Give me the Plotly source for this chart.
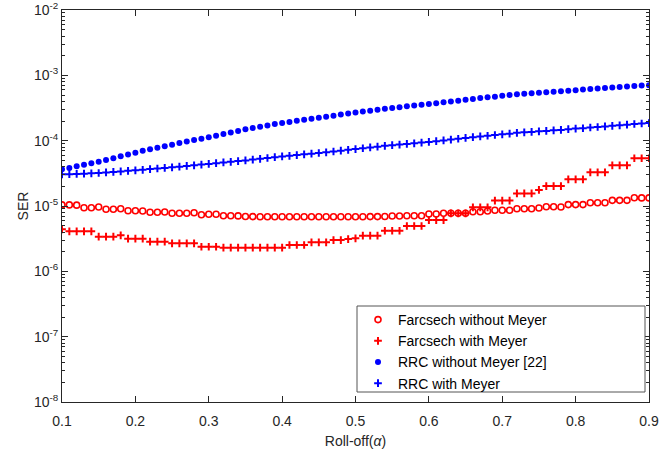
import numpy as np
import plotly.graph_objects as go

alpha = [round(0.10 + 0.01 * i, 2) for i in range(81)]

farc_without = [
    1.04e-5, 1.04e-5, 1.03e-5, 9.42e-6, 9.42e-6, 9.65e-6, 8.90e-6, 8.90e-6, 9.09e-6, 8.47e-6,
    8.47e-6, 8.40e-6, 8.01e-6, 8.01e-6, 8.09e-6, 7.73e-6, 7.73e-6, 7.73e-6, 7.89e-6, 7.36e-6,
    7.46e-6, 7.46e-6, 7.10e-6, 7.10e-6, 7.05e-6, 6.90e-6, 6.88e-6, 6.86e-6, 6.86e-6, 6.84e-6,
    6.84e-6, 6.84e-6, 6.84e-6, 6.84e-6, 6.84e-6, 6.84e-6, 6.86e-6, 6.86e-6, 6.86e-6, 6.86e-6,
    6.86e-6, 6.86e-6, 6.88e-6, 6.88e-6, 6.90e-6, 7.03e-6, 7.03e-6, 7.10e-6, 7.10e-6, 7.10e-6,
    7.54e-6, 7.54e-6, 7.73e-6, 7.73e-6, 7.73e-6, 7.73e-6, 8.18e-6, 8.18e-6, 8.38e-6, 8.59e-6,
    8.59e-6, 8.59e-6, 9.09e-6, 9.09e-6, 9.09e-6, 9.32e-6, 9.76e-6, 9.76e-6, 9.65e-6, 1.05e-5,
    1.05e-5, 1.05e-5, 1.12e-5, 1.12e-5, 1.12e-5, 1.22e-5, 1.22e-5, 1.22e-5, 1.34e-5, 1.33e-5, 1.33e-5,
]

farc_with = [
    4.40e-6, 4.10e-6, 4.10e-6, 4.10e-6, 4.10e-6, 3.39e-6, 3.39e-6, 3.39e-6, 3.56e-6, 3.16e-6,
    3.16e-6, 3.16e-6, 2.84e-6, 2.84e-6, 2.84e-6, 2.68e-6, 2.68e-6, 2.68e-6, 2.68e-6, 2.38e-6,
    2.38e-6, 2.38e-6, 2.30e-6, 2.30e-6, 2.30e-6, 2.30e-6, 2.30e-6, 2.30e-6, 2.30e-6, 2.30e-6,
    2.30e-6, 2.53e-6, 2.53e-6, 2.53e-6, 2.78e-6, 2.78e-6, 2.78e-6, 3.01e-6, 3.01e-6, 3.12e-6,
    3.20e-6, 3.51e-6, 3.51e-6, 3.51e-6, 4.18e-6, 4.18e-6, 4.18e-6, 4.94e-6, 4.94e-6, 4.94e-6,
    6.10e-6, 6.10e-6, 6.10e-6, 7.73e-6, 7.73e-6, 7.73e-6, 9.55e-6, 9.55e-6, 9.55e-6, 1.21e-5,
    1.21e-5, 1.21e-5, 1.56e-5, 1.56e-5, 1.56e-5, 1.76e-5, 2.02e-5, 2.02e-5, 2.02e-5, 2.56e-5,
    2.56e-5, 2.56e-5, 3.28e-5, 3.28e-5, 3.28e-5, 4.20e-5, 4.20e-5, 4.20e-5, 5.38e-5, 5.38e-5, 5.38e-5,
]

rrc_without = [
    3.64e-5, 3.83e-5, 4.06e-5, 4.28e-5, 4.52e-5, 4.77e-5, 5.05e-5, 5.38e-5, 5.75e-5, 6.12e-5,
    6.55e-5, 6.98e-5, 7.36e-5, 7.78e-5, 8.24e-5, 8.69e-5, 9.19e-5, 9.69e-5, 1.02e-4, 1.07e-4,
    1.13e-4, 1.19e-4, 1.26e-4, 1.33e-4, 1.41e-4, 1.49e-4, 1.56e-4, 1.64e-4, 1.71e-4, 1.80e-4,
    1.86e-4, 1.93e-4, 2.01e-4, 2.09e-4, 2.17e-4, 2.25e-4, 2.33e-4, 2.41e-4, 2.51e-4, 2.60e-4,
    2.69e-4, 2.79e-4, 2.88e-4, 2.98e-4, 3.08e-4, 3.17e-4, 3.26e-4, 3.35e-4, 3.45e-4, 3.55e-4,
    3.64e-4, 3.75e-4, 3.87e-4, 3.98e-4, 4.10e-4, 4.23e-4, 4.35e-4, 4.49e-4, 4.60e-4, 4.72e-4,
    4.86e-4, 4.99e-4, 5.12e-4, 5.21e-4, 5.32e-4, 5.41e-4, 5.51e-4, 5.61e-4, 5.71e-4, 5.83e-4,
    5.93e-4, 6.06e-4, 6.17e-4, 6.30e-4, 6.41e-4, 6.53e-4, 6.64e-4, 6.76e-4, 6.88e-4, 6.98e-4, 7.08e-4,
]

rrc_with = [
    3.05e-5, 3.07e-5, 3.10e-5, 3.12e-5, 3.16e-5, 3.20e-5, 3.26e-5, 3.32e-5, 3.38e-5, 3.45e-5,
    3.51e-5, 3.58e-5, 3.67e-5, 3.75e-5, 3.83e-5, 3.91e-5, 4.00e-5, 4.10e-5, 4.20e-5, 4.31e-5,
    4.41e-5, 4.52e-5, 4.64e-5, 4.75e-5, 4.87e-5, 4.99e-5, 5.14e-5, 5.28e-5, 5.43e-5, 5.59e-5,
    5.73e-5, 5.87e-5, 6.02e-5, 6.17e-5, 6.32e-5, 6.48e-5, 6.64e-5, 6.83e-5, 7.03e-5, 7.23e-5,
    7.44e-5, 7.65e-5, 7.87e-5, 8.09e-5, 8.33e-5, 8.53e-5, 8.72e-5, 8.93e-5, 9.12e-5, 9.35e-5,
    9.55e-5, 9.82e-5, 1.01e-4, 1.04e-4, 1.07e-4, 1.10e-4, 1.13e-4, 1.16e-4, 1.19e-4, 1.22e-4,
    1.25e-4, 1.28e-4, 1.32e-4, 1.34e-4, 1.36e-4, 1.39e-4, 1.41e-4, 1.44e-4, 1.46e-4, 1.50e-4,
    1.53e-4, 1.55e-4, 1.59e-4, 1.62e-4, 1.65e-4, 1.69e-4, 1.72e-4, 1.76e-4, 1.80e-4, 1.83e-4, 1.86e-4,
]

x_ticks = [0.1, 0.2, 0.3, 0.4, 0.5, 0.6, 0.7, 0.8, 0.9]
x_ticktext = ["0.1", "0.2", "0.3", "0.4", "0.5", "0.6", "0.7", "0.8", "0.9"]
y_ticks = [1e-8, 1e-7, 1e-6, 1e-5, 1e-4, 1e-3, 1e-2]
y_ticktext = ["10<sup>-8</sup>", "10<sup>-7</sup>", "10<sup>-6</sup>", "10<sup>-5</sup>",
              "10<sup>-4</sup>", "10<sup>-3</sup>", "10<sup>-2</sup>"]
series_names = ["Farcsech without Meyer", "Farcsech with Meyer",
                "RRC without Meyer [22]", "RRC with Meyer"]

RED = "#ff0000"
BLUE = "#0000ff"
AX = "#262626"
FONT = "Liberation Sans, Arial, sans-serif"

fig = go.Figure()
fig.add_trace(go.Scatter(x=alpha, y=farc_without, mode="markers", name=series_names[0],
                         marker=dict(symbol="circle-open", size=6, color=RED,
                                     line=dict(color=RED, width=1.6))))
fig.add_trace(go.Scatter(x=alpha, y=farc_with, mode="markers", name=series_names[1],
                         marker=dict(symbol="cross-thin", size=5.5, color=RED,
                                     line=dict(color=RED, width=2))))
fig.add_trace(go.Scatter(x=alpha, y=rrc_without, mode="markers", name=series_names[2],
                         marker=dict(symbol="circle", size=6, color=BLUE,
                                     line=dict(width=0))))
fig.add_trace(go.Scatter(x=alpha, y=rrc_with, mode="markers", name=series_names[3],
                         marker=dict(symbol="cross-thin", size=5.5, color=BLUE,
                                     line=dict(color=BLUE, width=2))))

minor_vals = []
for e in range(-8, -2):
    for m in range(2, 10):
        minor_vals.append(m * 10.0 ** e)

L, R, T, B = 62, 21, 10, 49
W, H = 670, 451
pw, ph = W - L - R, H - T - B


def px_x(px):
    return (px - L) / pw


def px_y(py):
    return (H - B - py) / ph


fig.update_layout(
    width=W, height=H,
    margin=dict(l=L, r=R, t=T, b=B, autoexpand=False),
    paper_bgcolor="white", plot_bgcolor="white",
    font=dict(family=FONT, size=14, color=AX),
    showlegend=True,
    legend=dict(x=px_x(358), y=px_y(304), xanchor="left", yanchor="top",
                bgcolor="rgba(0,0,0,0)", borderwidth=0,
                font=dict(family=FONT, size=14, color="#000000"),
                tracegroupgap=0, itemsizing="trace"),
    shapes=[dict(type="rect", xref="paper", yref="paper",
                 x0=px_x(357), x1=px_x(645), y0=px_y(392), y1=px_y(306),
                 fillcolor="white", line=dict(color="#555555", width=1), layer="above")],
    xaxis=dict(range=[0.1, 0.9], tickmode="array", tickvals=x_ticks, ticktext=x_ticktext,
               ticks="inside", ticklen=6, tickcolor=AX, tickwidth=1, ticklabelstandoff=6,
               tickfont=dict(size=14, color=AX), automargin=False,
               showline=True, linecolor=AX, linewidth=1, mirror="ticks",
               showgrid=False, zeroline=False,
               title=dict(text="Roll-off(<i>α</i>)", font=dict(size=14, color=AX), standoff=8)),
    yaxis=dict(type="log", range=[-8, -2], tickmode="array", tickvals=y_ticks, ticktext=y_ticktext,
               ticks="inside", ticklen=6, tickcolor=AX, tickwidth=1,
               tickfont=dict(size=14, color=AX), automargin=False,
               minor=dict(tickmode="array", tickvals=minor_vals, ticks="inside", ticklen=3,
                          tickcolor=AX, showgrid=False),
               showline=True, linecolor=AX, linewidth=1, mirror="ticks",
               showgrid=False, zeroline=False,
               title=dict(text="SER", font=dict(size=14, color=AX), standoff=2)),
)

fig.write_html("out.html")
